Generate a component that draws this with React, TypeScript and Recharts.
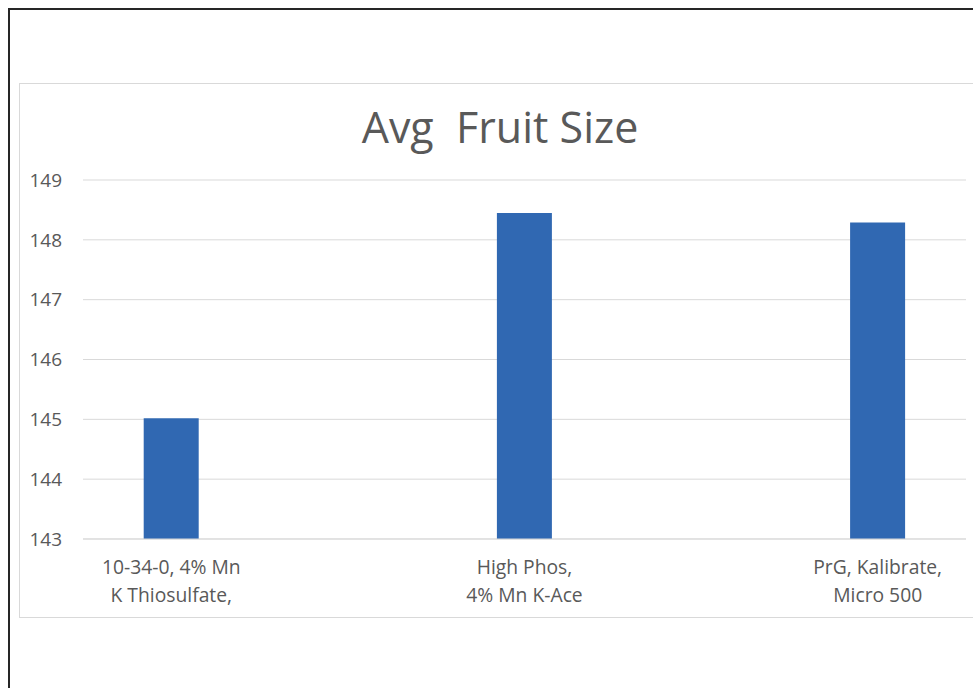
import React from "react";
import { Bar, BarChart, CartesianGrid, XAxis, YAxis } from "recharts";

const labelTop = ["10-34-0, 4% Mn", "High Phos,", "PrG, Kalibrate,"];
const labelBottom = ["K Thiosulfate,", "4% Mn K-Ace", "Micro 500"];
const fruitSize = [145.02, 148.45, 148.29];
const yTicks = [143, 144, 145, 146, 147, 148, 149];

const data = fruitSize.map((v, i) => ({ idx: i, size: v }));

const FONT = "'Open Sans', sans-serif";

function CategoryTick(props: any) {
  const { x, y, payload } = props;
  const i = payload.value as number;
  return (
    <text x={x} textAnchor="middle" fill="#595959" fontSize={19.3} fontFamily={FONT}>
      <tspan x={x} y={y + 27}>{labelTop[i]}</tspan>
      <tspan x={x} y={y + 54.5}>{labelBottom[i]}</tspan>
    </text>
  );
}

export default function App() {
  return (
    <div style={{ position: "relative", width: 973, height: 688, overflow: "hidden", background: "#fff" }}>
      <style>{`html,body{margin:0;padding:0;overflow:hidden;}`}</style>
      {/* outer dark frame, right/bottom edges run off the picture */}
      <div
        style={{
          position: "absolute",
          left: 8,
          top: 8,
          width: 980,
          height: 700,
          borderLeft: "2px solid #262626",
          borderTop: "2px solid #262626",
        }}
      />
      {/* chart area box */}
      <div
        style={{
          position: "absolute",
          left: 19,
          top: 83,
          width: 970,
          height: 533,
          border: "1px solid #d9d9d9",
        }}
      />
      <svg style={{ position: "absolute", left: 0, top: 0 }} width={973} height={200}>
        <text
          x={500}
          y={143}
          textAnchor="middle"
          fill="#595959"
          fontSize={43}
          fontFamily={FONT}
          style={{ whiteSpace: "pre" }}
        >
          {"Avg  Fruit Size"}
        </text>
      </svg>
      <div style={{ position: "absolute", left: 20, top: 84 }}>
        <BarChart
          width={953}
          height={533}
          data={data}
          margin={{ top: 96, right: 7, bottom: 8, left: 0 }}
        >
          <CartesianGrid vertical={false} stroke="#d9d9d9" strokeWidth={1} />
          <XAxis
            dataKey="idx"
            type="number"
            domain={[-0.25, 2.25]}
            ticks={[0, 1, 2]}
            allowDataOverflow
            height={70}
            tickLine={false}
            axisLine={{ stroke: "#d9d9d9" }}
            tick={<CategoryTick />}
            interval={0}
          />
          <YAxis
            domain={[143, 149]}
            ticks={yTicks}
            width={63}
            axisLine={false}
            tickLine={false}
            tickSize={0}
            tickMargin={21}
            tick={{ fill: "#595959", fontSize: 19, fontFamily: FONT }}
            interval={0}
          />
          <Bar dataKey="size" fill="#3068b2" barSize={55} isAnimationActive={false} />
        </BarChart>
      </div>
    </div>
  );
}
